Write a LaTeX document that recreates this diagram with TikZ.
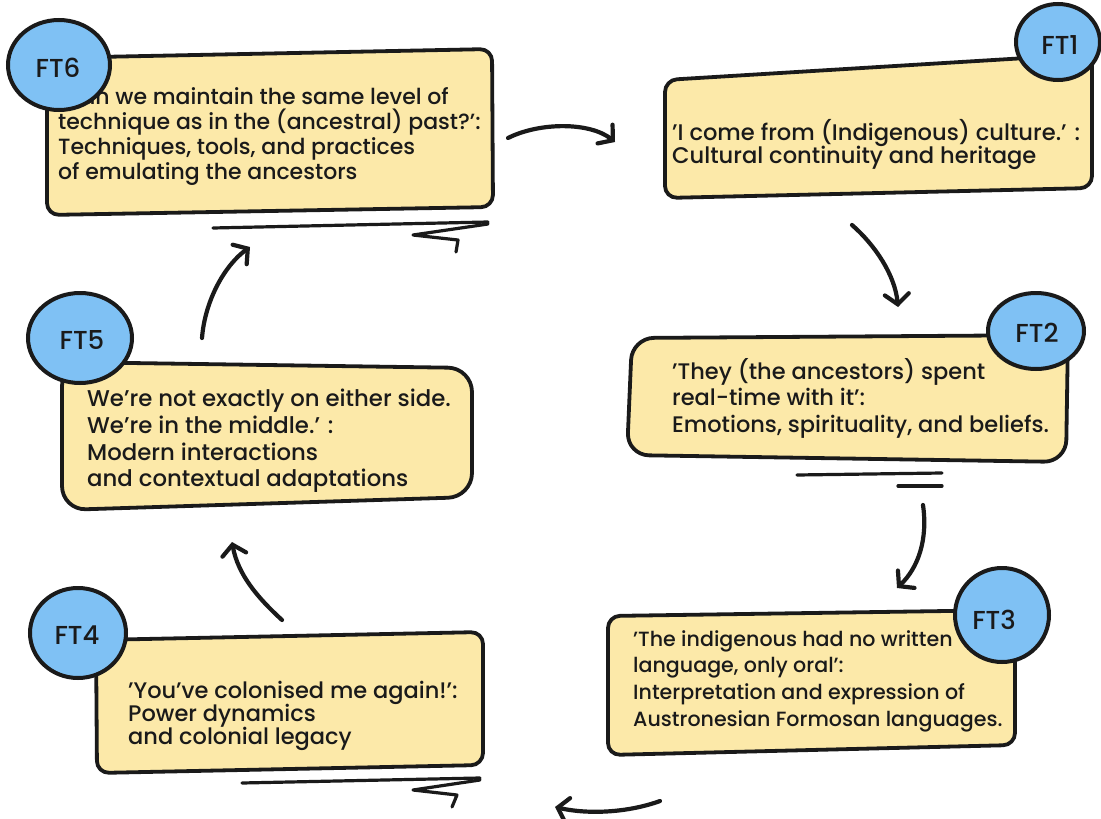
\documentclass[tikz,border=0pt]{standalone}
\usepackage{fontspec}
\setmainfont{Poppins}[UprightFont=* Medium]
\usetikzlibrary{arrows.meta}
\definecolor{boxfill}{HTML}{FCE9A9}
\definecolor{badgefill}{HTML}{7FC1F4}
\definecolor{ink}{HTML}{1A1A1A}
\begin{document}
\begin{tikzpicture}[x=1pt,y=-1pt,
  card/.style={draw=ink, line width=3.8pt, fill=boxfill, rounded corners=12pt, line join=round},
  badge/.style={draw=ink, line width=4pt, fill=badgefill},
  badgetext/.style={font=\fontsize{26}{30}\selectfont, text=ink, inner sep=0pt},
  cardtext/.style={text=ink, align=left, anchor=north west, inner sep=0pt,
    execute at begin node={\lineskiplimit=-100pt\relax}},
  flow/.style={draw=ink, line width=4.2pt, line cap=round, -{Straight Barb[length=10pt,width=24pt,line cap=round]}},
  rule/.style={draw=ink, line width=3.2pt, line cap=round, line join=round}]
\useasboundingbox (0,0) rectangle (1101,819);

% ---- cards ----
\path[card] (47,58) -- (492,49) -- (493,207) -- (47,215) -- cycle;
\path[card] (665,80) -- (1092,54) -- (1092,188) -- (665,198) -- cycle;
\path[card, rounded corners=22pt] (632,338) -- (1068,335) -- (1066,462) -- (627,455) -- cycle;
\path[card] (608,616) -- (1015,610) -- (1015,745) -- (608,755) -- cycle;
\path[card] (96,640) -- (483,632) -- (483,765) -- (97,773) -- cycle;
\path[card, rounded corners=24pt] (62,362) -- (472,368) -- (472,497) -- (62,510) -- cycle;

% ---- card texts ----
\node[cardtext, font=\fontsize{22}{25}\selectfont] (t6) at (58,87.5) {'Can we maintain the same level of\\technique as in the (ancestral) past?':\\Techniques, tools, and practices\\of emulating the ancestors};
\node[cardtext, font=\fontsize{22.6}{23}\selectfont] (t1) at (672,119.5) {'I come from (Indigenous) culture.' :\\Cultural continuity and heritage};
\node[cardtext, font=\fontsize{22.5}{26.5}\selectfont] (t2) at (672,358) {'They (the ancestors) spent\\real-time with it':\\Emotions, spirituality, and beliefs.};
\node[cardtext, font=\fontsize{20.6}{26.7}\selectfont] (t3) at (633,630) {'The indigenous had no written\\language, only oral':\\Interpretation and expression of\\Austronesian Formosan languages.};
\node[cardtext, font=\fontsize{22.5}{23}\selectfont] (t4) at (128,681) {'You've colonised me again!':\\Power dynamics\\and colonial legacy};
\node[cardtext, font=\fontsize{22.8}{26.7}\selectfont] (t5) at (87,389) {We're not exactly on either side.\\We're in the middle.' :\\Modern interactions\\and contextual adaptations};

% ---- badges ----
\path[badge] (59,65) ellipse [x radius=51, y radius=45];
\node[badgetext] (b6) at (58,68) {FT6};
\path[badge] (1058,42) ellipse [x radius=42, y radius=38];
\node[badgetext] (b1) at (1060,45) {FT1};
\path[badge] (1036,331) ellipse [x radius=48, y radius=38];
\node[badgetext] (b2) at (1037,333) {FT2};
\path[badge] (1002,615) ellipse [x radius=47, y radius=47];
\node[badgetext] (b3) at (994,620) {FT3};
\path[badge] (78,633) ellipse [x radius=48, y radius=45];
\node[badgetext] (b4) at (77,635) {FT4};
\path[badge] (80,338) ellipse [x radius=52, y radius=45];
\node[badgetext] (b5) at (82,340) {FT5};

% ---- underline strokes ----
\path[rule] (213,228) -- (488,222);
\path[rule] (488,224) -- (413,235) -- (458,240) -- (456,252);
\path[rule] (797,475) -- (942,473);
\path[rule] (898,486) -- (942,486);
\path[rule] (242,783) -- (480,778);
\path[rule] (480,780) -- (413,790) -- (457,795) -- (452,807);

% ---- connector ends ----
\coordinate (s61) at (508,138);
\coordinate (e61) at (615,142);
\coordinate (s12) at (852,225);
\coordinate (e12) at (898,307);
\coordinate (s23) at (923,505);
\coordinate (e23) at (897,588);
\coordinate (s34) at (660,801);
\coordinate (e34) at (555,807);
\coordinate (s45) at (282,620);
\coordinate (e45) at (232,542);
\coordinate (s56) at (202,338);
\coordinate (e56) at (250,247);

% ---- flow arrows ----
\draw[flow] (s61) .. controls (540,122) and (590,122) .. (e61);
\draw[flow] (s12) .. controls (875,245) and (895,275) .. (e12);
\draw[flow] (s23) .. controls (928,540) and (918,568) .. (e23);
\draw[flow] (s34) .. controls (630,812) and (590,815) .. (e34);
\draw[flow] (s45) .. controls (258,598) and (238,575) .. (e45);
\draw[flow] (s56) .. controls (205,300) and (225,265) .. (e56);
\end{tikzpicture}
\end{document}
